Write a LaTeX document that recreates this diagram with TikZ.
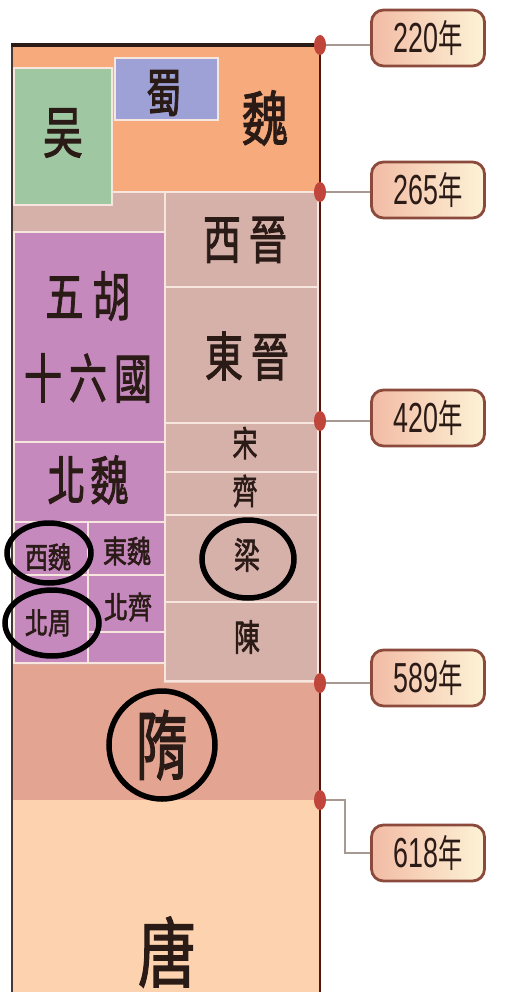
\documentclass[tikz,border=0pt]{standalone}
\usepackage{fontspec}
\setmainfont{Liberation Sans}
\newfontfamily\cjk{Noto Sans CJK TC}
\newfontfamily\cjkb[FakeBold=2]{Noto Sans CJK TC}
\usetikzlibrary{shapes.geometric}
\definecolor{weiC}{HTML}{F7AB7D}
\definecolor{wuC}{HTML}{9EC7A2}
\definecolor{shuC}{HTML}{9DA1D5}
\definecolor{jinC}{HTML}{D5B1AA}
\definecolor{purC}{HTML}{C589BE}
\definecolor{suiC}{HTML}{E3A491}
\definecolor{tangC}{HTML}{FDD2AF}
\definecolor{sepC}{HTML}{F6E6DE}
\definecolor{inkC}{HTML}{2B1B17}
\definecolor{dotC}{HTML}{C0453A}
\definecolor{boxC}{HTML}{8B4A3C}
\definecolor{boxL}{HTML}{F2BBA4}
\definecolor{boxR}{HTML}{FDF3D6}
\definecolor{connC}{HTML}{A89892}
\newcommand\vs[2][1.4]{\scalebox{1}[#1]{#2}}
\newcommand\yr[1]{\scalebox{0.64}[1]{#1{\cjk\fontsize{38}{38}\selectfont 年}}}
\tikzset{
  region/.style={draw=sepC, line width=2.5pt},
  han/.style={font=\cjkb\fontsize{#1}{#1}\selectfont, text=inkC, inner sep=0pt},
  ring/.style={ellipse, draw=black, line width=5.5pt, inner sep=0pt},
  yeardot/.style={ellipse, fill=dotC, minimum width=12pt, minimum height=20pt, inner sep=0pt},
  yearbox/.style={draw=boxC, line width=2.8pt, rounded corners=12pt, left color=boxL, right color=boxR,
    minimum width=113pt, minimum height=56pt, inner sep=0pt, font=\fontsize{42}{42}\selectfont, text=inkC},
  conn/.style={draw=connC, line width=2pt}
}
\begin{document}
\begin{tikzpicture}[x=1pt,y=-1pt]
\useasboundingbox (0,0) rectangle (509,992);
\fill[white] (0,0) rectangle (509,992);
% regions
\fill[weiC] (12,45) rectangle (320,192);
\filldraw[fill=jinC, region] (12,192) rectangle (318,682);
\filldraw[fill=wuC, region] (14,68) rectangle (112,205);
\filldraw[fill=shuC, region] (115,58) rectangle (218,120);
\filldraw[fill=purC, region] (14,232) rectangle (165,442);
\filldraw[fill=purC, region] (14,442) rectangle (165,522);
\filldraw[fill=purC, region] (14,522) rectangle (88,575);
\filldraw[fill=purC, region] (88,522) rectangle (165,575);
\filldraw[fill=purC, region] (14,575) rectangle (88,663);
\filldraw[fill=purC, region] (88,575) rectangle (165,632);
\filldraw[fill=purC, region] (88,632) rectangle (165,663);
\filldraw[fill=jinC, region] (165,192) rectangle (318,287);
\filldraw[fill=jinC, region] (165,287) rectangle (318,423);
\filldraw[fill=jinC, region] (165,423) rectangle (318,472);
\filldraw[fill=jinC, region] (165,472) rectangle (318,515);
\filldraw[fill=jinC, region] (165,515) rectangle (318,602);
\filldraw[fill=jinC, region] (165,602) rectangle (318,681);
\fill[suiC] (12,664.5) -- (163.5,664.5) -- (163.5,682.5) -- (320,682.5) -- (320,800) -- (12,800) -- cycle;
\fill[tangC] (12,800) rectangle (320,992);
% frame
\draw[line width=2pt, color=inkC!70!gray] (12,45) -- (12,992);
\draw[line width=2.5pt, color=inkC!80!red] (320,45) -- (320,992);
\draw[line width=3.5pt, color=inkC] (11,45) -- (321,45);
% labels
\node[han=46] (wei) at (265,118) {\vs[1.3]{魏}};
\node[han=40] (wu) at (63,133) {\vs{吴}};
\node[han=36] (shu) at (164,93) {\vs[1.45]{蜀}};
\node[han=38] (xijin) at (245,240) {\vs{西\kern8pt晉}};
\node[han=38] (wuhu) at (88,296) {\vs{五\kern9pt胡}};
\node[han=38] (shiliu) at (88,378) {\vs{十\kern7pt六\kern7pt國}};
\node[han=38] (dongjin) at (247,356) {\vs{東\kern8pt晉}};
\node[han=38] (beiwei) at (88,480) {\vs{北\kern5pt魏}};
\node[han=25] (song) at (245,443) {\vs{宋}};
\node[han=25] (qi) at (245,491) {\vs{齊}};
\node[han=26] (liang) at (247,555) {\vs{梁}};
\node[han=26] (chen) at (247,637) {\vs{陳}};
\node[han=23] (xiwei) at (48,557) {\vs[1.3]{西魏}};
\node[han=24] (dongwei) at (127,551) {\vs[1.3]{東魏}};
\node[han=24] (beiqi) at (128,607) {\vs[1.3]{北齊}};
\node[han=23] (beizhou) at (48,623) {\vs[1.3]{北周}};
\node[han=52] (sui) at (162,745) {\vs[1.45]{隋}};
\node[han=58] (tang) at (167,952) {\vs[1.3]{唐}};
% rings
\node[ring, minimum width=84pt, minimum height=60pt] (rxw) at (49,553) {};
\node[ring, minimum width=94pt, minimum height=66pt] (rbz) at (52,623) {};
\node[ring, minimum width=92pt, minimum height=78pt] (rl) at (248,559) {};
\node[ring, minimum width=106pt, minimum height=108pt] (rs) at (162,745) {};
% year boxes
\node[yearbox] (y220) at (428,38) {\yr{220}};
\node[yearbox] (y265) at (428,190) {\yr{265}};
\node[yearbox] (y420) at (428,418) {\yr{420}};
\node[yearbox] (y589) at (428,678) {\yr{589}};
\node[yearbox] (y618) at (428,853) {\yr{618}};
% dots
\node[yeardot] (d220) at (320,45) {};
\node[yeardot] (d265) at (320,192) {};
\node[yeardot] (d420) at (320,421) {};
\node[yeardot] (d589) at (320,683) {};
\node[yeardot] (d618) at (320,800) {};
\coordinate (k618) at (345,853);
% connectors
\draw[conn] (d220) -- (d220 -| y220.west);
\draw[conn] (d265) -- (d265 -| y265.west);
\draw[conn] (d420) -- (d420 -| y420.west);
\draw[conn] (d589) -- (d589 -| y589.west);
\draw[conn] (d618) -| (k618) -- (y618.west);
\end{tikzpicture}
\end{document}
